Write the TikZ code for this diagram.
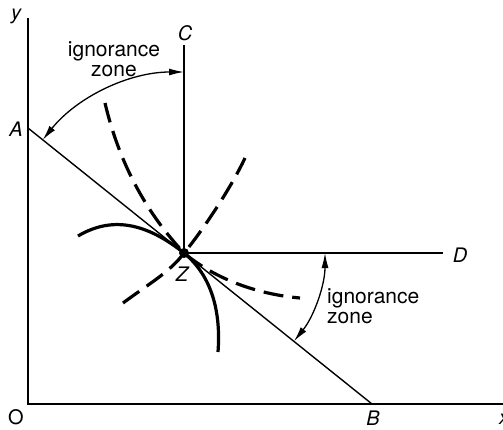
\documentclass[tikz,border=0pt]{standalone}
\usepackage{fontspec}
\setmainfont{TeX Gyre Heros}
\usetikzlibrary{arrows.meta}
\tikzset{
  axis/.style={line width=1.6pt},
  thinline/.style={line width=1.4pt},
  curve/.style={line width=3.2pt},
  dashcurve/.style={line width=3.2pt, dash pattern=on 20pt off 9pt},
  zonearrow/.style={line width=1.3pt, {Latex[length=15pt,width=7pt]}-{Latex[length=15pt,width=7pt]}},
  lab/.style={font=\fontsize{20}{20}\selectfont\itshape},
  zonetext/.style={font=\fontsize{21}{20}\selectfont, inner sep=0pt}
}
\begin{document}
\begin{tikzpicture}[x=1pt,y=-1pt]
\useasboundingbox (0,0) rectangle (503,429);
% axes and budget line
\coordinate (O) at (28,404);
\coordinate (ytop) at (28,18);
\coordinate (xend) at (503,404);
\coordinate (A) at (28,128);
\coordinate (B) at (372,404);
\coordinate (Z) at (184,253);
\coordinate (C) at (184,45);
\coordinate (D) at (443,253);
\draw[axis] (ytop) -- (O) -- (xend);
\draw[thinline] (A) -- (B);
\draw[thinline] (C) -- (Z) -- (D);
% labels
\node[lab] (ylab) at (16,16) {y};
\node[lab] (xlab) at (504,419) {x};
\node[font=\fontsize{20}{20}\selectfont] (olab) at (16,417) {O};
\node[lab] (alab) at (16,129) {A};
\node[lab, inner sep=1pt] (blab) at (373,418) {B};
\node[lab] (clab) at (185,33) {C};
\node[lab] (dlab) at (460,255) {D};
\node[lab] (zlab) at (182,274) {Z};
% curves through Z
\draw[curve] (78,236) .. controls (115,214) and (150,226) .. (Z)
  .. controls (212,276) and (221,312) .. (218,352);
\draw[dashcurve] (105,103) .. controls (122,175) and (155,222) .. (Z)
  .. controls (214,278) and (255,294) .. (300,298);
\draw[dashcurve] (123,303) .. controls (150,283) and (170,272) .. (Z)
  .. controls (200,234) and (230,190) .. (245,158);
\fill (Z) circle (5pt);
% ignorance zones
\coordinate (up1) at (184,72);
\coordinate (lo1) at (325,253);
\draw[zonearrow] (up1) arc[start angle=270, end angle=218.7, radius=181];
\draw[zonearrow] (lo1) arc[start angle=0, end angle=38.7, radius=141];
\node[zonetext, align=center] (zone1) at (114,59) {ignorance\\zone};
\node[zonetext, align=left, anchor=west] (zone2) at (327,306) {ignorance\\zone};
\end{tikzpicture}
\end{document}
